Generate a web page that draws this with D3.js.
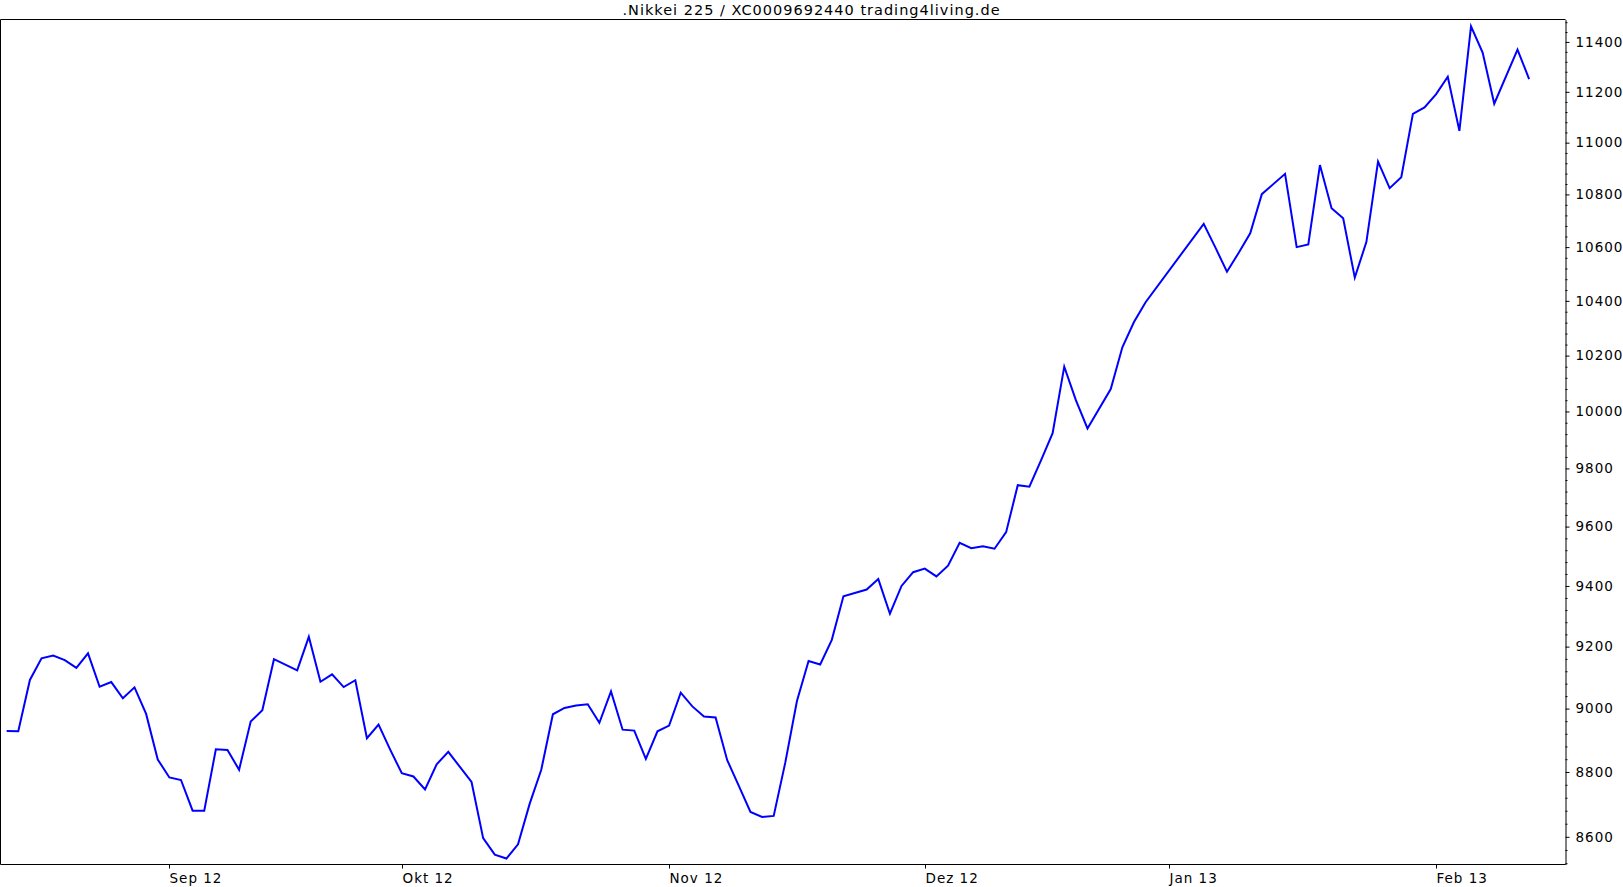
<!DOCTYPE html>
<html>
<head>
<meta charset="utf-8">
<script src="https://cdn.jsdelivr.net/npm/d3@7"></script>
<style>
  html, body { margin: 0; padding: 0; background: #ffffff; }
  svg { display: block; }
  text { font-family: "DejaVu Sans", Verdana, sans-serif; fill: #000; }
</style>
</head>
<body>
<svg id="chart" width="1623" height="887"></svg>
<script>
// ---- data ----
const chartTitle = ".Nikkei 225 / XC0009692440 trading4living.de";

const dates = [
  "2012-08-14","2012-08-15","2012-08-16","2012-08-17","2012-08-20","2012-08-21","2012-08-22","2012-08-23","2012-08-24",
  "2012-08-27","2012-08-28","2012-08-29","2012-08-30","2012-08-31",
  "2012-09-03","2012-09-04","2012-09-05","2012-09-06","2012-09-07","2012-09-10","2012-09-11","2012-09-12","2012-09-13","2012-09-14",
  "2012-09-18","2012-09-19","2012-09-20","2012-09-21","2012-09-24","2012-09-25","2012-09-26","2012-09-27","2012-09-28",
  "2012-10-01","2012-10-02","2012-10-03","2012-10-04","2012-10-05","2012-10-09","2012-10-10","2012-10-11","2012-10-12",
  "2012-10-15","2012-10-16","2012-10-17","2012-10-18","2012-10-19","2012-10-22","2012-10-23","2012-10-24","2012-10-25","2012-10-26",
  "2012-10-29","2012-10-30","2012-10-31",
  "2012-11-01","2012-11-02","2012-11-05","2012-11-06","2012-11-07","2012-11-08","2012-11-09","2012-11-12","2012-11-13","2012-11-14",
  "2012-11-15","2012-11-16","2012-11-19","2012-11-20","2012-11-21","2012-11-22","2012-11-26","2012-11-27","2012-11-28","2012-11-29","2012-11-30",
  "2012-12-03","2012-12-04","2012-12-05","2012-12-06","2012-12-07","2012-12-10","2012-12-11","2012-12-12","2012-12-13","2012-12-14",
  "2012-12-17","2012-12-18","2012-12-19","2012-12-20","2012-12-21","2012-12-25","2012-12-26","2012-12-27","2012-12-28",
  "2013-01-04","2013-01-07","2013-01-08","2013-01-09","2013-01-10","2013-01-11","2013-01-15","2013-01-16","2013-01-17","2013-01-18",
  "2013-01-21","2013-01-22","2013-01-23","2013-01-24","2013-01-25","2013-01-28","2013-01-29","2013-01-30","2013-01-31",
  "2013-02-01","2013-02-04","2013-02-05","2013-02-06","2013-02-07","2013-02-08","2013-02-12","2013-02-13"
];

const closes = [
  8929, 8928, 9092, 9162, 9171, 9156, 9131, 9178, 9070,
  9085, 9033, 9068, 8983, 8839,
  8783, 8775, 8680, 8680, 8871, 8869, 8807, 8959, 8995, 9159,
  9123, 9232, 9086, 9110, 9069, 9091, 8906, 8949, 8870,
  8796, 8786, 8746, 8824, 8863, 8769, 8596, 8546, 8534,
  8577, 8701, 8807, 8982, 9002, 9010, 9014, 8955, 9055, 8933,
  8930, 8841, 8928,
  8946, 9051, 9007, 8975, 8972, 8837, 8757, 8676, 8661, 8664,
  8830, 9024, 9153, 9142, 9222, 9366, 9388, 9423, 9308, 9400, 9446,
  9458, 9432, 9468, 9545, 9527, 9533, 9525, 9581, 9742, 9737,
  9828, 9923, 10160, 10040, 9940, 10080, 10230, 10322, 10395,
  10688, 10599, 10508, 10578, 10652, 10801, 10879, 10600, 10610, 10913,
  10747, 10709, 10486, 10620, 10926, 10824, 10866, 11113, 11138,
  11191, 11260, 11046, 11463, 11357, 11153, 11369, 11251
];

const monthTickDates = ["2012-09-03","2012-10-01","2012-11-01","2012-12-03","2013-01-01","2013-02-01"];
const monthTickLabels = ["Sep 12","Okt 12","Nov 12","Dez 12","Jan 13","Feb 13"];

const yMajorTicks = [8600, 8800, 9000, 9200, 9400, 9600, 9800, 10000, 10200, 10400, 10600, 10800, 11000, 11200, 11400];

// ---- helpers ----
const parse = d3.timeParse("%Y-%m-%d");
const startDate = parse(dates[0]);
// business-day (weekday) index counted from the first date
function weekdayIndex(d) {
  return d3.timeDay.range(startDate, d).filter(t => t.getDay() !== 0 && t.getDay() !== 6).length;
}

const data = dates.map((s, k) => ({ i: weekdayIndex(parse(s)), v: closes[k] }));

// ---- layout ----
const W = 1623, H = 887;
const pLeft = 0.5, pRight = 1565.5, pTop = 19.5, pBottom = 864.5;

const svg = d3.select("#chart");

const x = d3.scaleLinear().domain([-0.53, 134.13]).range([pLeft, pRight]);
const y = d3.scaleLog().domain([8516, 11491]).range([pBottom, pTop]);

// title
svg.append("text")
  .attr("x", W / 2)
  .attr("y", 14.5)
  .attr("text-anchor", "middle")
  .style("font-size", "14.5px")
  .style("letter-spacing", "1px")
  .text(chartTitle);

// frame
const frame = svg.append("g").attr("stroke", "#000").attr("stroke-width", 1).attr("fill", "none");
frame.append("line").attr("x1", pLeft).attr("x2", pLeft).attr("y1", pTop).attr("y2", pBottom);
frame.append("line").attr("x1", pLeft).attr("x2", pRight).attr("y1", pTop).attr("y2", pTop);

// x axis (bottom)
const xAxisG = svg.append("g");
xAxisG.append("line").attr("x1", pLeft).attr("x2", pRight).attr("y1", pBottom).attr("y2", pBottom)
  .attr("stroke", "#000");
monthTickDates.forEach((s, k) => {
  const px = Math.round(x(weekdayIndex(parse(s)))) + 0.5;
  xAxisG.append("line").attr("x1", px).attr("x2", px).attr("y1", pBottom).attr("y2", pBottom + 4)
    .attr("stroke", "#000");
  xAxisG.append("text")
    .attr("x", px)
    .attr("y", 883)
    .attr("text-anchor", "start")
    .style("font-size", "13.5px")
    .style("letter-spacing", "1px")
    .text(monthTickLabels[k]);
});

// y axis (right) - minor ticks
const minorTicks = d3.range(8520, 11491, 40).filter(v => yMajorTicks.indexOf(v) < 0);
const yMinor = d3.axisRight(y).tickValues(minorTicks).tickSize(2).tickFormat("");
const gMinor = svg.append("g").attr("transform", `translate(${pRight},0)`).call(yMinor);
gMinor.select(".domain").remove();
gMinor.selectAll(".tick line").attr("stroke", "#000");

// y axis major
const yAxis = d3.axisRight(y).tickValues(yMajorTicks).tickSize(4).tickSizeOuter(0).tickPadding(6)
  .tickFormat(d3.format("d"));
const gY = svg.append("g").attr("transform", `translate(${pRight},0)`).call(yAxis);
gY.select(".domain").attr("stroke", "#000");
gY.selectAll(".tick line").attr("stroke", "#000");
gY.selectAll(".tick text")
  .style("font-family", "'DejaVu Sans', Verdana, sans-serif")
  .style("font-size", "13.5px")
  .style("letter-spacing", "1px")
  .attr("fill", "#000");

// line
const line = d3.line().x(d => x(d.i)).y(d => y(d.v));
svg.append("path")
  .datum(data)
  .attr("fill", "none")
  .attr("stroke", "#0000ff")
  .attr("stroke-width", 2)
  .attr("stroke-linejoin", "miter")
  .attr("d", line);
</script>
</body>
</html>
